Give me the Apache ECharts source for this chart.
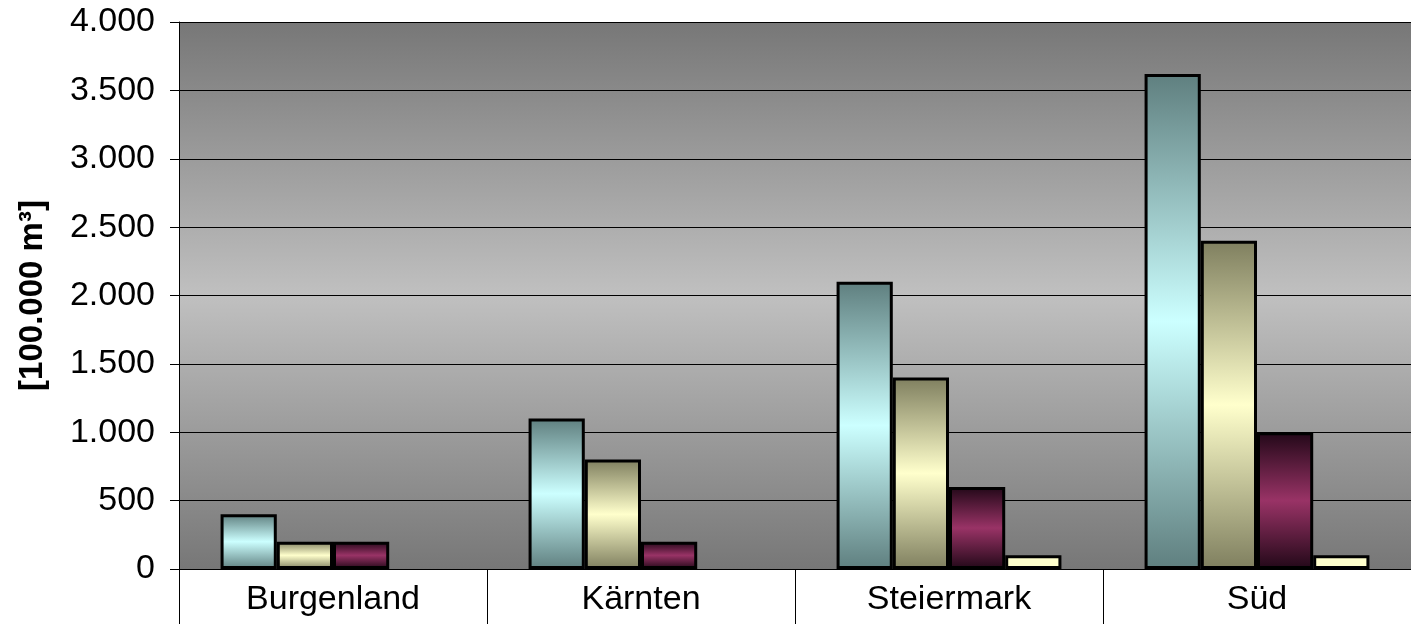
<!DOCTYPE html>
<html>
<head>
<meta charset="utf-8">
<script src="https://cdn.jsdelivr.net/npm/echarts@6/dist/echarts.min.js"></script>
<style>
html,body{margin:0;padding:0;background:#fff;}
#chart{width:1411px;height:624px;}
</style>
</head>
<body>
<div id="chart"></div>
<script>
var categories = ['Burgenland', 'Kärnten', 'Steiermark', 'Süd'];
var series1 = [400, 1100, 2100, 3620];
var series2 = [200, 800, 1400, 2400];
var series3 = [200, 200, 600, 1000];
var series4 = [null, null, 100, 100];
var yTicks = {min: 0, max: 4000, interval: 500};
var yAxisName = '[100.000 m³]';

var FONT = '"Liberation Sans", Arial, sans-serif';
function grad(edge, mid) {
  return new echarts.graphic.LinearGradient(0, 0, 0, 1, [
    {offset: 0, color: edge},
    {offset: 0.5, color: mid},
    {offset: 1, color: edge}
  ]);
}
function fmt(v) {
  return String(v).replace(/\B(?=(\d{3})+(?!\d))/g, '.');
}
var barBase = {
  type: 'bar',
  barGap: '0%',
  barCategoryGap: '27%',
  silent: true
};
var chart = echarts.init(document.getElementById('chart'));
chart.setOption({
  animation: false,
  backgroundColor: '#ffffff',
  grid: {
    left: 179, right: 0, top: 22, bottom: 55,
    show: true,
    borderWidth: 0,
    backgroundColor: new echarts.graphic.LinearGradient(0, 0, 0, 1, [
      {offset: 0, color: '#777777'},
      {offset: 0.5, color: '#c0c0c0'},
      {offset: 1, color: '#777777'}
    ])
  },
  xAxis: {
    type: 'category',
    data: categories,
    axisLine: {show: true, lineStyle: {color: '#000', width: 1}},
    axisTick: {show: true, interval: 0, length: 56, lineStyle: {color: '#000', width: 1}},
    axisLabel: {color: '#000', fontSize: 34, fontFamily: FONT, margin: 14, interval: 0},
    splitLine: {show: false}
  },
  yAxis: {
    type: 'value',
    min: yTicks.min, max: yTicks.max, interval: yTicks.interval,
    name: yAxisName,
    nameLocation: 'middle',
    nameGap: 130,
    nameRotate: 90,
    nameTextStyle: {color: '#000', fontSize: 33, fontWeight: 'bold', fontFamily: FONT},
    axisLine: {show: true, lineStyle: {color: '#000', width: 1}},
    axisTick: {show: true, length: 9, lineStyle: {color: '#000', width: 1}},
    axisLabel: {color: '#000', fontSize: 34, fontFamily: FONT, margin: 24, formatter: fmt},
    splitLine: {show: true, lineStyle: {color: '#000', width: 1}}
  },
  series: [
    Object.assign({}, barBase, {name: 'A', data: series1,
      itemStyle: {color: grad('#5f7f7f', '#ccffff'), borderColor: '#000', borderWidth: 3}}),
    Object.assign({}, barBase, {name: 'B', data: series2,
      itemStyle: {color: grad('#7f7f5f', '#ffffcc'), borderColor: '#000', borderWidth: 3}}),
    Object.assign({}, barBase, {name: 'C', data: series3,
      itemStyle: {color: grad('#220818', '#993366'), borderColor: '#000', borderWidth: 3}}),
    Object.assign({}, barBase, {name: 'D', data: series4,
      itemStyle: {color: '#ffffcc', borderColor: '#000', borderWidth: 3}})
  ]
});
</script>
</body>
</html>
